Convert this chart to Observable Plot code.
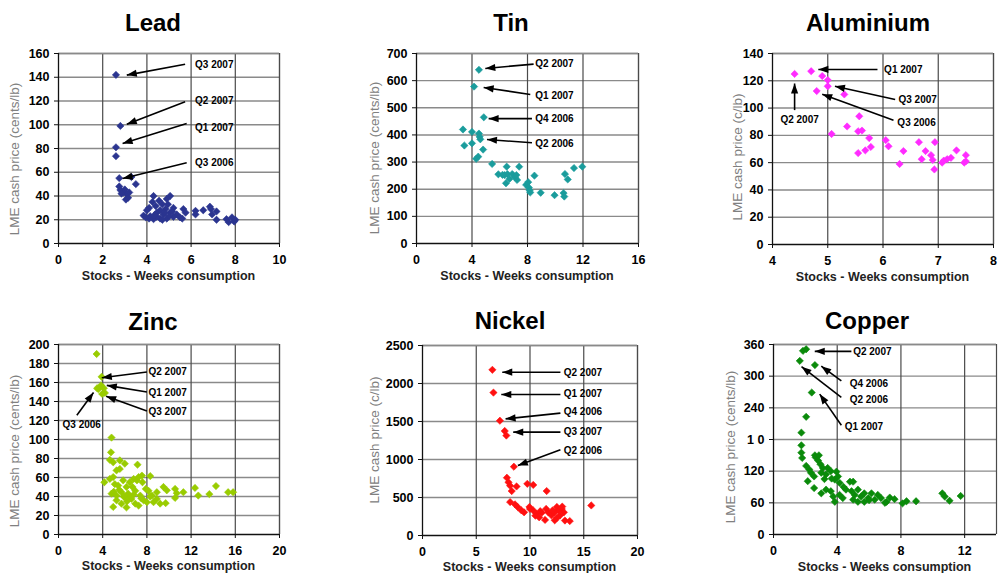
<!DOCTYPE html>
<html><head><meta charset="utf-8">
<script src="https://cdn.jsdelivr.net/npm/d3@7"></script>
<script src="https://cdn.jsdelivr.net/npm/@observablehq/plot@0.6"></script>
<style>
html,body{margin:0;padding:0;background:#fff;overflow:hidden}
#root{position:relative;width:998px;height:573px;overflow:hidden;font-family:"Liberation Sans",Arial,sans-serif;background:#fff}
.title{position:absolute;font-weight:bold;font-size:24px;line-height:1;color:#000;transform:translate(-50%,-50%);white-space:nowrap}
.xlab{position:absolute;font-weight:bold;font-size:12.5px;line-height:1;color:#222;transform:translate(-50%,-50%);white-space:nowrap}
.ylab{position:absolute;font-size:13.5px;line-height:1;color:#808080;transform:translate(-50%,-50%) rotate(-90deg);white-space:nowrap}
.panel{position:absolute;overflow:visible}
</style>
</head><body><div id="root"></div>
<script>
// ---------- data (x = stocks in weeks of consumption, y = LME cash price) ----------
const leadPoints = [[2.6,142],[2.8,99],[2.6,81],[2.6,73.5],[2.75,55],[3.3,56],[3.5,50],
 [2.75,48],[2.8,45],[3.0,45.5],[2.95,43],[3.1,41.5],[3.15,38.5],[3.05,37],[3.2,43],[2.85,42],
 [4.3,40],[5.05,40],[4.9,37.5],[4.55,36],[4.7,33],[4.4,31.5],[4.1,30],[4.85,29],[5.2,30],[3.85,23.5],
 [4.15,23],[4.45,26],[4.75,24.5],[5.05,26],[5.35,24.5],[4.3,20.5],[4.6,21],[4.9,21],[5.5,22],[5.65,29],
 [5.75,26],[5.2,22.5],[4.45,22.5],[4.0,28],[4.6,28],[4.95,33],[4.25,35],[5.0,23],[4.7,20],[4.35,24],
 [5.15,27],[4.8,26],[6.2,27.5],[6.2,24.5],[6.55,28],[6.85,31],[6.9,29],[7.15,27],[6.95,24.5],[7.15,20],
 [7.6,20.5],[7.85,22],[8.0,20],[7.7,18],[7.95,18.5],[5.6,21],[4.1,21],[3.95,22]];
const tinPoints = [[4.5,640],[4.15,578],[4.85,465],[3.35,420],[4.0,411],[4.5,405],[4.55,393],[4.6,384],
 [3.45,361],[4.0,369],[4.8,346],[4.45,320],[4.3,312],[5.45,293],[5.9,255],[6.5,283],[6.35,252],[6.55,256],
 [6.45,222],[6.9,256],[7.1,244],[7.25,234],[7.4,283],[6.7,238],[7.9,216],[8.05,226],[8.1,206],[8.2,188],
 [8.5,250],[8.95,187],[9.95,178],[10.6,186],[10.65,173],[10.7,256],[10.9,236],[11.35,278],[11.95,283],
 [8.15,196],[7.2,252],[6.2,253]];
const aluminiumPoints = [[4.4,125],[4.7,127],[4.9,123.5],[5.0,120.5],[5.0,116],[4.8,112.5],[5.3,110],
 [5.57,94],[5.35,86.5],[5.07,81],[5.55,83],[5.62,83.5],[5.75,78],[5.78,71.5],[5.68,69],[5.55,67],
 [6.05,76.5],[6.1,72],[6.37,68.5],[6.3,59],[6.65,75],[6.77,68.5],[6.7,62.5],[6.87,65.5],[6.9,62],
 [6.94,75],[6.93,55],[7.07,60],[7.1,61.5],[7.16,62.5],[7.23,63.5],[7.33,69],[7.47,60],[7.5,65.5],[7.5,61]];
const zincPoints = [[3.45,190],[3.9,166],[3.85,157],[3.6,153],[3.5,154],[3.95,148],[4.2,149],[4.1,154],
 [4.8,102],[4.75,86.5],[4.65,78.5],[4.95,76],[5.55,78],[6.0,74.5],[5.25,67.5],[5.55,69],[7.15,73.5],
 [4.15,55],[4.65,58.5],[4.95,60.5],[5.1,53],[5.4,51.5],[5.85,57],[6.15,50],[6.45,55],[6.8,58.5],[7.1,57],
 [7.25,60.5],[7.55,62],[7.6,55],[8.3,61.5],[4.8,43],[5.25,41],[5.7,44.5],[6.0,39.5],[6.3,43],[6.6,37.5],
 [6.95,46],[7.4,41],[7.7,36],[8.15,46],[8.45,41],[8.9,37.5],[8.6,34],[8.0,34],[9.2,32.5],[5.25,36],
 [5.7,32.5],[6.15,28.5],[4.95,29],[7.25,30.5],[9.5,50],[9.8,46.5],[10.55,48],[10.7,43.5],[11.3,44.5],
 [9.7,33],[12.35,49],[12.65,41],[13.65,42.5],[14.25,51],[15.35,44.5],[15.8,44.5],[10.55,38.5],[8.9,44.5],
 [6.95,32.5],[6.45,39.5],[5.5,47],[6.7,50],[7.9,48],[5.0,45],[6.2,35],[7.5,38],[8.3,40],[5.9,40],[6.8,42]];
const nickelPoints = [[6.5,2180],[6.6,1880],[7.2,1510],[7.65,1375],[7.8,1315],[8.5,905],
 [7.85,760],[8.0,700],[8.15,655],[8.75,645],[8.3,585],[9.75,680],[10.3,665],[11.55,585],[8.15,440],
 [8.6,410],[8.85,375],[9.45,305],[9.95,375],[10.3,330],[10.6,285],[10.95,320],[10.85,240],[11.5,350],
 [11.7,305],[11.4,205],[12.0,265],[12.3,305],[12.5,375],[12.65,330],[12.95,350],[13.15,305],[12.8,265],
 [12.5,230],[13.25,197],[13.7,190],[15.7,395],[10.0,350],[9.2,330],[11.1,300],[12.1,330],[10.5,260],
 [12.3,200],[13.0,380]];
const copperPoints = [[1.85,348],[2.05,351],[1.65,329],[2.6,321],[2.4,269],[2.05,223],[1.75,193],[1.75,169],
 [1.75,155],[1.8,145],[2.05,130],[2.25,123],[2.35,117],[2.15,101],[2.65,146],[2.8,140],[2.95,133],[3.1,126],
 [2.55,110],[3.0,117],[3.3,114],[3.4,126],[3.6,120],[3.85,104],[4.05,110],[4.15,98],[4.8,100],[5.0,100],
 [2.55,88],[3.0,78],[3.3,85],[3.6,82],[3.75,72],[3.85,62],[4.15,75],[4.9,82],[5.0,66],[5.1,75],[5.3,85],
 [5.5,72],[5.7,78],[5.95,69],[6.15,78],[6.35,66],[6.55,75],[6.75,69],[7.1,62],[7.3,70],[7.6,67],[8.1,59],
 [8.35,63],[8.95,63],[10.6,78],[10.75,72],[11.05,64],[11.75,73],[5.3,62],[5.7,62],[4.55,85],[4.35,69],
 [2.6,150],[2.85,150],[3.65,106],[3.95,119],[3.2,105],[4.4,90],[6.0,65],[7.0,60]];

// annotations: label, arrow tail (x1,y1) -> head at point (x2,y2), label anchor (tx,ty)
const leadNotes = [
 {label:"Q3 2007", x1:5.73, y1:151, x2:3.09, y2:141.8, tx:6.18, ty:150.5, anchor:"start"},
 {label:"Q2 2007", x1:5.73, y1:119.3, x2:3.09, y2:100.5, tx:6.18, ty:120, anchor:"start"},
 {label:"Q1 2007", x1:5.8, y1:101, x2:2.9, y2:84.2, tx:6.18, ty:97.5, anchor:"start"},
 {label:"Q3 2006", x1:5.8, y1:68, x2:2.9, y2:54.7, tx:6.18, ty:68, anchor:"start"}];
const tinNotes = [
 {label:"Q2 2007", x1:8.44, y1:661, x2:4.96, y2:645, tx:8.56, ty:663, anchor:"start"},
 {label:"Q1 2007", x1:8.2, y1:549, x2:4.84, y2:575, tx:8.56, ty:544, anchor:"start"},
 {label:"Q4 2006", x1:8.32, y1:460, x2:5.2, y2:460, tx:8.56, ty:460, anchor:"start"},
 {label:"Q2 2006", x1:8.32, y1:371, x2:5.08, y2:383, tx:8.56, ty:366, anchor:"start"}];
const aluminiumNotes = [
 {label:"Q1 2007", x1:5.9, y1:128.3, x2:4.83, y2:128.3, tx:6.02, ty:128.3, anchor:"start"},
 {label:"Q3 2007", x1:6.22, y1:106.3, x2:5.13, y2:116, tx:6.28, ty:106, anchor:"start"},
 {label:"Q3 2006", x1:6.19, y1:91.1, x2:4.9, y2:110.2, tx:6.26, ty:89, anchor:"start"},
 {label:"Q2 2007", x1:4.4, y1:98.5, x2:4.4, y2:118, tx:4.49, ty:91.6, anchor:"middle"}];
const zincNotes = [
 {label:"Q2 2007", x1:8.0, y1:171, x2:3.92, y2:165, tx:8.14, ty:171, anchor:"start"},
 {label:"Q1 2007", x1:8.0, y1:150, x2:4.37, y2:157, tx:8.14, ty:149, anchor:"start"},
 {label:"Q3 2007", x1:8.0, y1:130, x2:4.31, y2:145.6, tx:8.14, ty:129, anchor:"start"},
 {label:"Q3 2006", x1:1.66, y1:125.6, x2:3.17, y2:149.5, tx:2.1, ty:115, anchor:"middle"}];
const nickelNotes = [
 {label:"Q2 2007", x1:12.83, y1:2149, x2:7.42, y2:2149, tx:13.14, ty:2140, anchor:"start"},
 {label:"Q1 2007", x1:12.83, y1:1855, x2:7.33, y2:1855, tx:13.14, ty:1860, anchor:"start"},
 {label:"Q4 2006", x1:12.83, y1:1610, x2:7.73, y2:1535, tx:13.14, ty:1623, anchor:"start"},
 {label:"Q3 2007", x1:12.83, y1:1360, x2:8.44, y2:1360, tx:13.14, ty:1360, anchor:"start"},
 {label:"Q2 2006", x1:12.83, y1:1127, x2:8.87, y2:921, tx:13.14, ty:1118, anchor:"start"}];
const copperNotes = [
 {label:"Q2 2007", x1:4.89, y1:347, x2:2.59, y2:347, tx:5.0, ty:346, anchor:"start"},
 {label:"Q4 2006", x1:4.26, y1:291, x2:3.0, y2:319, tx:4.78, ty:286, anchor:"start"},
 {label:"Q2 2006", x1:4.26, y1:260, x2:1.76, y2:318, tx:4.78, ty:254.5, anchor:"start"},
 {label:"Q1 2007", x1:4.26, y1:207, x2:2.9, y2:266, tx:4.47, ty:204, anchor:"start"}];

// axes: domains and tick values / labels
const leadXTicks = [0,2,4,6,8,10], leadYTicks = [0,20,40,60,80,100,120,140,160];
const tinXTicks = [0,4,8,12,16], tinYTicks = [0,100,200,300,400,500,600,700];
const aluminiumXTicks = [4,5,6,7,8], aluminiumYTicks = [0,20,40,60,80,100,120,140];
const zincXTicks = [0,4,8,12,16,20], zincYTicks = [0,20,40,60,80,100,120,140,160,180,200];
const nickelXTicks = [0,5,10,15,20], nickelYTicks = [0,500,1000,1500,2000,2500];
const copperXTicks = [0,4,8,12], copperYTicks = [0,60,120,180,240,300,360];
const copperYLabels = ["0","60","120","1 0","240","300","360"];

const titles = ["Lead","Tin","Aluminium","Zinc","Nickel","Copper"];
const xTitle = "Stocks - Weeks consumption";
const yTitles = ["LME cash price (cents/lb)","LME cash price (cents/lb)","LME cash price (c/lb)",
                 "LME cash price (cents/lb)","LME cash price (c/lb)","LME cash price (cents/lb)"];
const colors = ["#2b3590","#1a9c9c","#ff2bff","#99cc00","#ff1010","#0a8a0a"];

// ---------- layout (pixel frames) ----------
const panels = [
 {points:leadPoints, notes:leadNotes, xd:[0,10], xt:leadXTicks, yd:[0,160], yt:leadYTicks,
  frame:[58,279,53,243], title:[153,23], ylab:[15,159], xlabY:276},
 {points:tinPoints, notes:tinNotes, xd:[0,16], xt:tinXTicks, yd:[0,700], yt:tinYTicks,
  frame:[416,638,53,243], title:[511,23], ylab:[375,158], xlabY:276},
 {points:aluminiumPoints, notes:aluminiumNotes, xd:[4,8], xt:aluminiumXTicks, yd:[0,140], yt:aluminiumYTicks,
  frame:[772,993,53,244], title:[868,23], ylab:[738,157], xlabY:277},
 {points:zincPoints, notes:zincNotes, xd:[0,20], xt:zincXTicks, yd:[0,200], yt:zincYTicks,
  frame:[58,279,344,534], title:[153,322], ylab:[15,451], xlabY:566},
 {points:nickelPoints, notes:nickelNotes, xd:[0,20], xt:nickelXTicks, yd:[0,2500], yt:nickelYTicks,
  frame:[422,637,345,535], title:[510,321], ylab:[375,440], xlabY:567},
 {points:copperPoints, notes:copperNotes, xd:[0,14], xt:copperXTicks, yd:[0,360], yt:copperYTicks,
  yfmt: d => copperYLabels[copperYTicks.indexOf(d)],
  frame:[773,996,344,534], title:[867,321], ylab:[731,447], xlabY:567}
];

const diamond = {draw(ctx, size){ const h = Math.sqrt(size/2);
  ctx.moveTo(0,-h); ctx.lineTo(h,0); ctx.lineTo(0,h); ctx.lineTo(-h,0); ctx.closePath(); }};
// filled arrow head with its tip at the origin, pointing up before rotation
const arrowHead = {draw(ctx){ ctx.moveTo(0,0); ctx.lineTo(3.6,10); ctx.lineTo(-3.6,10); ctx.closePath(); }};

const root = document.getElementById("root");
const ML = 60, MR = 24, MT = 12, MB = 40;

panels.forEach((p, i) => {
  const [fl, fr, ft, fb] = p.frame;
  const kx = (fr - fl) / (p.xd[1] - p.xd[0]);
  const ky = (fb - ft) / (p.yd[1] - p.yd[0]);
  const headAngle = d => Math.atan2((d.x2 - d.x1) * kx, (d.y2 - d.y1) * ky) * 180 / Math.PI;
  const pts = p.points.map(([x, y]) => ({x, y}));
  const svg = Plot.plot({
    width: fr - fl + ML + MR, height: fb - ft + MT + MB,
    marginLeft: ML, marginRight: MR, marginTop: MT, marginBottom: MB,
    style: {fontFamily: "'Liberation Sans', Arial, sans-serif", fontSize: "12.5px", background: "transparent", overflow: "visible"},
    x: {domain: p.xd},
    y: {domain: p.yd},
    marks: [
      Plot.ruleY(p.yt.filter(d => d > p.yd[0]), {stroke: "#8a8a8a", strokeWidth: 1.4}),
      Plot.ruleX(p.xt.filter(d => d > p.xd[0]).concat([p.xd[1]]), {stroke: "#4a4a4a", strokeWidth: 1.2}),
      Plot.ruleY([p.yd[1]], {stroke: "#8a8a8a", strokeWidth: 1.4}),
      Plot.ruleX([p.xd[0]], {stroke: "#111", strokeWidth: 1.3}),
      Plot.ruleY([p.yd[0]], {stroke: "#111", strokeWidth: 1.3}),
      Plot.axisX({ticks: p.xt, tickSize: 4, tickPadding: 8, label: null, fontSize: 12.5, fontWeight: "bold", stroke: "#111",
                  tickFormat: d => String(d)}),
      Plot.axisY({ticks: p.yt, tickSize: 4, tickPadding: 5, label: null, fontSize: 12.5, fontWeight: "bold", stroke: "#111",
                  tickFormat: p.yfmt || (d => String(d))}),
      Plot.dot(pts, {x: "x", y: "y", symbol: diamond, r: 2.9, fill: colors[i], stroke: colors[i], strokeWidth: 0.6}),
      Plot.link(p.notes, {x1: "x1", y1: "y1", x2: "x2", y2: "y2", stroke: "#000", strokeWidth: 1.6}),
      Plot.dot(p.notes, {x: "x2", y: "y2", symbol: arrowHead, rotate: headAngle, fill: "#000", stroke: "none", r: 3}),
      Plot.text(p.notes, {filter: d => d.anchor === "start", x: "tx", y: "ty", text: "label", textAnchor: "start", fontSize: 10, fontWeight: "bold", fill: "#000"}),
      Plot.text(p.notes, {filter: d => d.anchor === "middle", x: "tx", y: "ty", text: "label", textAnchor: "middle", fontSize: 10, fontWeight: "bold", fill: "#000"})
    ]
  });
  svg.classList.add("panel");
  svg.style.left = (fl - ML) + "px";
  svg.style.top = (ft - MT) + "px";
  root.appendChild(svg);

  const t = document.createElement("div");
  t.className = "title"; t.textContent = titles[i];
  t.style.left = p.title[0] + "px"; t.style.top = p.title[1] + "px";
  root.appendChild(t);

  const xl = document.createElement("div");
  xl.className = "xlab"; xl.textContent = xTitle;
  xl.style.left = ((fl + fr) / 2) + "px"; xl.style.top = p.xlabY + "px";
  root.appendChild(xl);

  const yl = document.createElement("div");
  yl.className = "ylab"; yl.textContent = yTitles[i];
  yl.style.left = p.ylab[0] + "px"; yl.style.top = p.ylab[1] + "px";
  root.appendChild(yl);
});
</script>
</body></html>
